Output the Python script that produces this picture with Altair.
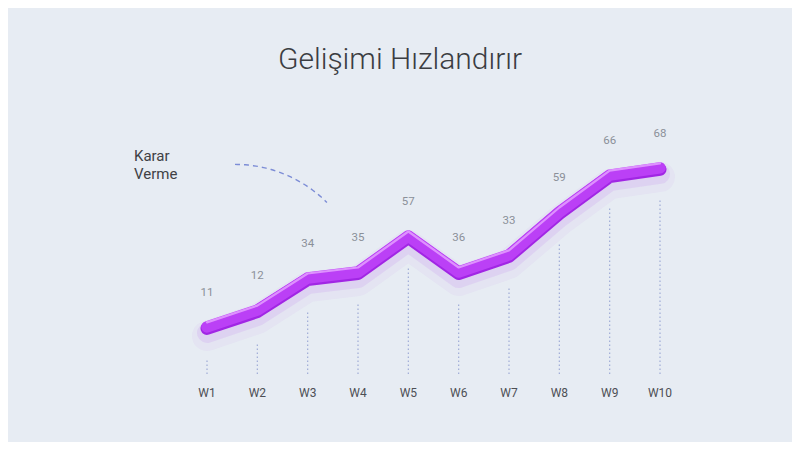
import altair as alt
import numpy as np
import pandas as pd

# ---- data ----
weeks = ["W1", "W2", "W3", "W4", "W5", "W6", "W7", "W8", "W9", "W10"]
values = [11, 12, 34, 35, 57, 36, 33, 59, 66, 68]
# plotted height of the ribbon at each week (as drawn in the reference)
levels = [15.7, 21.3, 32.0, 34.0, 46.0, 34.0, 39.7, 54.0, 66.3, 68.7]

title_text = "Gelişimi Hızlandırır"
note_text = ["Karar", "Verme"]

df = pd.DataFrame({"week": weeks, "value": values, "level": levels, "base": [0] * len(weeks)})

FONT = "Roboto"
W, H = 784, 434

yscale = alt.Scale(domain=[0, 100], range=[366, 66])
x = alt.X("week:N", sort=weeks, scale=alt.Scale(type="point", range=[199, 652], padding=0), axis=None)
y = alt.Y("level:Q", scale=yscale, axis=None)

base = alt.Chart(df)

rules = base.mark_rule(color="#9fabd6", strokeWidth=1.2, strokeDash=[1.5, 2.5], y2Offset=32).encode(
    x=x, y=alt.Y("base:Q", scale=yscale, axis=None), y2="level:Q"
)

glow2 = base.mark_line(color="#b347f0", opacity=0.05, strokeWidth=30, strokeCap="round", strokeJoin="round", yOffset=9).encode(x=x, y=y)
glow = base.mark_line(color="#a83ce8", opacity=0.10, strokeWidth=20, strokeCap="round", strokeJoin="round", yOffset=6).encode(x=x, y=y)
edge = base.mark_line(color="#a126e4", strokeWidth=13, strokeCap="round", strokeJoin="round", yOffset=1.5).encode(x=x, y=y)
main = base.mark_line(color="#bb40f6", strokeWidth=11.5, strokeCap="round", strokeJoin="round").encode(x=x, y=y)
hi = base.mark_line(color="#e4a0ff", strokeWidth=2.2, strokeCap="round", strokeJoin="round", yOffset=-4.5, opacity=0.85).encode(x=x, y=y)

labels = base.mark_text(font=FONT, fontSize=11.5, color="#8b9099", dy=-34, baseline="middle").encode(
    x=x, y=y, text="value:Q"
)

wk = base.mark_text(font=FONT, fontSize=12, color="#4d4f55", baseline="middle").encode(
    x=x, y=alt.value(385), text="week:N"
)

title = alt.Chart(pd.DataFrame({"t": [title_text]})).mark_text(
    font=FONT, fontSize=30, fontWeight=300, color="#3b3d42", baseline="middle", align="center"
).encode(x=alt.value(392), y=alt.value(52), text="t:N")

note = alt.Chart(pd.DataFrame({"t": [note_text]})).mark_text(
    font=FONT, fontSize=15, color="#3f4145", baseline="middle", align="left", lineHeight=18
).encode(x=alt.value(126), y=alt.value(148), text="t:N")

# decorative dashed arc: circle of radius 130 px, from 12 o'clock to 45 degrees
t = np.linspace(0, np.pi / 4, 40)
cx, cy, r = 227, 286.4, 130
arc_df = pd.DataFrame({"px": cx + r * np.sin(t), "py": cy - r * np.cos(t), "o": np.arange(len(t))})
arc = alt.Chart(arc_df).mark_line(color="#7d8dd6", strokeWidth=1.4, strokeDash=[5, 4]).encode(
    x=alt.X("px:Q", scale=None, axis=None), y=alt.Y("py:Q", scale=None, axis=None), order="o:Q"
)

chart = alt.layer(rules, glow2, glow, edge, main, hi, labels, wk, title, note, arc).resolve_scale(
    x="independent", y="independent"
).properties(
    width=W, height=H, autosize=alt.AutoSizeParams(type="none"), padding=0, background="#e7ecf3"
).configure_view(stroke=None)

chart.save("out.html", embed_options={"renderer": "svg", "actions": False})
